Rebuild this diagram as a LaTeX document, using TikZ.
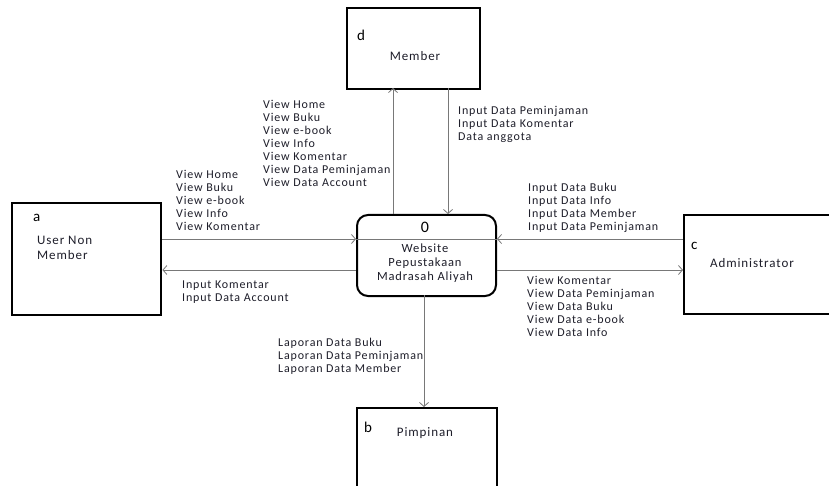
\documentclass[tikz,border=0pt]{standalone}
\usepackage{fontspec}
\setmainfont{Carlito}[LetterSpace=7]
\usetikzlibrary{arrows.meta, positioning}
\definecolor{flowgray}{RGB}{120, 120, 120}
\definecolor{labeltext}{RGB}{30, 30, 42}

\begin{document}
\begin{tikzpicture}[x=1pt, y=-1pt,
    entity/.style={draw=black, line width=2.4pt, anchor=north west, inner sep=0pt},
    process/.style={draw=black, line width=2pt, rounded corners=11pt, anchor=north west, inner sep=0pt},
    flow/.style={draw=flowgray, line width=0.8pt, -{Straight Barb[length=4pt, width=9pt]}},
    flowtext/.style={anchor=north west, align=left, inner sep=0pt, text=labeltext, font=\fontsize{12}{13}\selectfont},
    boxtext/.style={text=labeltext, inner sep=0pt, align=left, font=\fontsize{13}{15}\selectfont},
    letter/.style={inner sep=0pt, anchor=base west, font=\fontsize{15}{15}\selectfont}]
  \clip (0,0) rectangle (829,486);
  \fill[white] (0,0) rectangle (829,486);

  % external entities
  \node[entity, minimum width=133pt, minimum height=81pt] (member) at (346,7) {};
  \node[entity, minimum width=149pt, minimum height=112pt] (user) at (11,202) {};
  \node[entity, minimum width=170pt, minimum height=99pt] (admin) at (683,214) {};
  \node[entity, minimum width=140pt, minimum height=100pt] (pimpinan) at (356,407) {};

  \node[letter] (dlabel) at (357,41) {d};
  \node[boxtext] (membertext) at (415,56) {Member};
  \node[letter] (alabel) at (33,222) {a};
  \node[boxtext, anchor=north west] (usertext) at (37,236) {User Non\\Member};
  \node[letter] (clabel) at (691,249) {c};
  \node[boxtext] (admintext) at (752,263) {Administrator};
  \node[letter] (blabel) at (364,432) {b};
  \node[boxtext] (pimpinantext) at (425,433) {Pimpinan};

  % process
  \node[process, minimum width=139pt, minimum height=81pt] (web) at (356,214) {};
  \coordinate (divl) at (web.west |- 0,239);
  \coordinate (divr) at (web.east |- 0,239);
  \draw[flowgray, line width=0.8pt] (divl) -- (divr);
  \node[inner sep=0pt, font=\fontsize{16}{16}\selectfont] (webnum) at (425,227) {0};
  \node[boxtext, align=center, font=\fontsize{12.5}{14}\selectfont] (webtext) at (425,263) {Website\\Pepustakaan\\Madrasah Aliyah};

  % flow end points
  \coordinate (upbot) at (393,214);
  \coordinate (uptop) at (393,88);
  \coordinate (downtop) at (448,88);
  \coordinate (downbot) at (448,214);
  \coordinate (ua) at (user.east |- 0,239);
  \coordinate (ub) at (user.east |- 0,270);
  \coordinate (wa) at (web.west |- 0,270);
  \coordinate (wb) at (web.east |- 0,270);
  \coordinate (aa) at (admin.west |- 0,239);
  \coordinate (ab) at (admin.west |- 0,270);
  \coordinate (reptop) at (424,295);
  \coordinate (repbot) at (424,407);

  % flows
  \draw[flow] (upbot) -- (uptop);
  \draw[flow] (downtop) -- (downbot);
  \draw[flow] (ua) -- (divl);
  \draw[flow] (wa) -- (ub);
  \draw[flow] (aa) -- (divr);
  \draw[flow] (wb) -- (ab);
  \draw[flow] (reptop) -- (repbot);

  % flow labels
  \node[flowtext] (memberout) at (263,100) {View Home\\View Buku\\View e-book\\View Info\\View Komentar\\View Data Peminjaman\\View Data Account};
  \node[flowtext] (memberin) at (458,106) {Input Data Peminjaman\\Input Data Komentar\\Data anggota};
  \node[flowtext] (userin) at (176,170) {View Home\\View Buku\\View e-book\\View Info\\View Komentar};
  \node[flowtext] (userout) at (182,281) {Input Komentar\\Input Data Account};
  \node[flowtext] (adminin) at (528,183) {Input Data Buku\\Input Data Info\\Input Data Member\\Input Data Peminjaman};
  \node[flowtext] (adminout) at (527,276) {View Komentar\\View Data Peminjaman\\View Data Buku\\View Data e-book\\View Data Info};
  \node[flowtext] (laporan) at (278,338) {Laporan Data Buku\\Laporan Data Peminjaman\\Laporan Data Member};
\end{tikzpicture}
\end{document}
